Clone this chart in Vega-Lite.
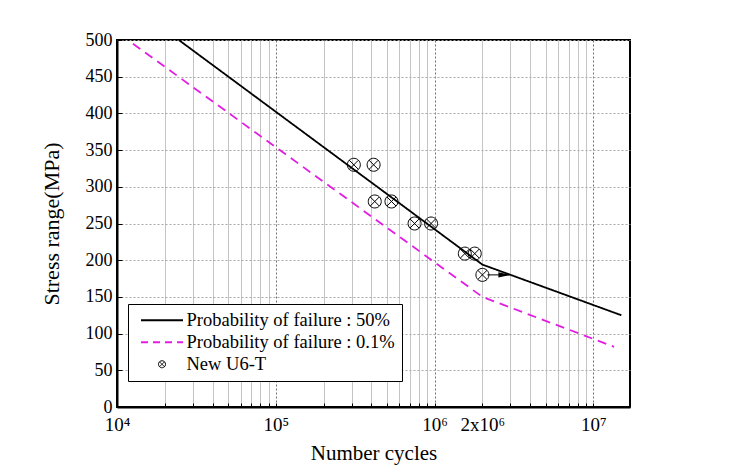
{
  "$schema": "https://vega.github.io/schema/vega-lite/v6.json",
  "width": 513,
  "height": 367,
  "autosize": {"type": "none"},
  "padding": {"left": 117, "top": 40, "right": 124, "bottom": 68},
  "background": "white",
  "config": {
    "view": {"stroke": "black", "strokeWidth": 2},
    "font": "Liberation Serif",
    "axis": {"labelFont": "Liberation Serif", "titleFont": "Liberation Serif", "labelColor": "black", "titleColor": "black", "titleFontWeight": "normal", "domainColor": "black", "domainWidth": 2, "tickColor": "black", "labelOverlap": false},
    "axisY": {"labelOverlap": false}
  },
  "datasets": {
    "curves": [
      {"series": "Probability of failure : 50%", "N": 24500, "S": 500},
      {"series": "Probability of failure : 50%", "N": 2000000, "S": 194},
      {"series": "Probability of failure : 50%", "N": 15000000, "S": 125},
      {"series": "Probability of failure : 0.1%", "N": 12600, "S": 495},
      {"series": "Probability of failure : 0.1%", "N": 2000000, "S": 150},
      {"series": "Probability of failure : 0.1%", "N": 13500000, "S": 82}
    ],
    "tests": [
      {"series": "New U6-T", "N": 310000, "S": 330},
      {"series": "New U6-T", "N": 413000, "S": 330},
      {"series": "New U6-T", "N": 420000, "S": 280},
      {"series": "New U6-T", "N": 535000, "S": 280},
      {"series": "New U6-T", "N": 748000, "S": 250},
      {"series": "New U6-T", "N": 950000, "S": 250},
      {"series": "New U6-T", "N": 1550000, "S": 209},
      {"series": "New U6-T", "N": 1790000, "S": 209},
      {"series": "New U6-T", "N": 2000000, "S": 180}
    ],
    "arrow": [
      {"N": 2150000, "N2": 2950000, "S": 180, "head": 2750000}
    ]
  },
  "layer": [
    {
      "data": {"name": "curves"},
      "mark": {"type": "line", "strokeWidth": 1.8, "clip": true},
      "encoding": {
        "x": {
          "field": "N", "type": "quantitative",
          "scale": {"type": "log", "domain": [10000, 17000000], "nice": false},
          "axis": {
            "title": "Number cycles", "titleFontSize": 21, "titlePadding": 8,
            "values": [10000,20000,30000,40000,50000,60000,70000,80000,90000,100000,200000,300000,400000,500000,600000,700000,800000,900000,1000000,2000000,3000000,4000000,5000000,6000000,7000000,8000000,9000000,10000000],
            "labelExpr": "datum.value == 10000 ? '10⁴' : datum.value == 100000 ? '10⁵' : datum.value == 1000000 ? '10⁶' : datum.value == 2000000 ? '2x10⁶' : datum.value == 10000000 ? '10⁷' : ''",
            "labelFontSize": 19, "labelOverlap": false, "labelFlush": false, "labelPadding": 12,
            "tickSize": -4, "tickWidth": 1,
            "grid": true,
            "gridColor": {"condition": {"test": "datum.value == 100000 || datum.value == 1000000 || datum.value == 10000000", "value": "#707070"}, "value": "#c4c4c4"},
            "gridDash": {"condition": {"test": "datum.value == 100000 || datum.value == 1000000 || datum.value == 10000000", "value": [2, 2]}, "value": []},
            "gridWidth": 1
          }
        },
        "y": {
          "field": "S", "type": "quantitative",
          "scale": {"domain": [0, 500], "nice": false},
          "axis": {
            "title": "Stress range(MPa)", "titleFontSize": 22, "titlePadding": 22,
            "values": [0,50,100,150,200,250,300,350,400,450,500],
            "tickCount": 11,
            "labelFontSize": 18, "labelOverlap": false, "labelFlush": false, "labelPadding": 10,
            "tickSize": -5, "tickWidth": 1,
            "grid": true, "gridColor": "#a8a8a8", "gridDash": [2, 2]
          }
        },
        "color": {
          "field": "series", "type": "nominal",
          "scale": {"domain": ["Probability of failure : 50%", "Probability of failure : 0.1%", "New U6-T"], "range": ["black", "#e21de2", "black"]},
          "legend": {
            "title": null, "orient": "none", "legendX": 11, "legendY": 264,
            "strokeColor": "black", "fillColor": "white", "padding": 7,
            "labelFontSize": 18.5, "labelFont": "Liberation Serif", "labelColor": "black", "labelLimit": 400,
            "labelExpr": "datum.label == 'Probability of failure : 0.1%' ? datum.label + '   ' : datum.label",
            "symbolSize": 324, "rowPadding": 3, "labelOffset": 33,
            "encode": {
              "symbols": {
                "update": {
                  "x": {"value": 27},
                  "shape": {"signal": "datum.value === 'New U6-T' ? 'M-1,0A1,1 0 1,0 1,0A1,1 0 1,0 -1,0M-0.707,-0.707L0.707,0.707M-0.707,0.707L0.707,-0.707' : 'stroke'"},
                  "size": {"signal": "datum.value === 'New U6-T' ? 49 : 1764"},
                  "strokeDash": {"signal": "datum.value === 'Probability of failure : 0.1%' ? [7, 5] : [1, 0]"},
                  "strokeWidth": {"signal": "datum.value === 'New U6-T' ? 1 : 1.8"},
                  "fill": {"value": "transparent"},
                  "opacity": {"value": 1}
                }
              }
            }
          }
        },
        "strokeDash": {
          "field": "series", "type": "nominal",
          "scale": {"domain": ["Probability of failure : 50%", "Probability of failure : 0.1%"], "range": [[1, 0], [9, 6]]},
          "legend": null
        },
        "strokeWidth": {"value": 1.8}
      }
    },
    {
      "data": {"name": "tests"},
      "mark": {"type": "point", "filled": false, "strokeWidth": 1, "opacity": 1,
        "shape": "M-1,0A1,1 0 1,0 1,0A1,1 0 1,0 -1,0M-0.707,-0.707L0.707,0.707M-0.707,0.707L0.707,-0.707",
        "size": 169},
      "encoding": {
        "x": {"field": "N", "type": "quantitative"},
        "y": {"field": "S", "type": "quantitative"},
        "color": {"field": "series", "type": "nominal"}
      }
    },
    {
      "data": {"name": "arrow"},
      "mark": {"type": "rule", "color": "black", "strokeWidth": 1},
      "encoding": {
        "x": {"field": "N", "type": "quantitative"},
        "x2": {"field": "N2"},
        "y": {"field": "S", "type": "quantitative"}
      }
    },
    {
      "data": {"name": "arrow"},
      "mark": {"type": "point", "filled": true, "color": "black", "opacity": 1,
        "shape": "M-1,-0.45L1,0L-1,0.45Z", "size": 144},
      "encoding": {
        "x": {"field": "head", "type": "quantitative"},
        "y": {"field": "S", "type": "quantitative"}
      }
    }
  ]
}
